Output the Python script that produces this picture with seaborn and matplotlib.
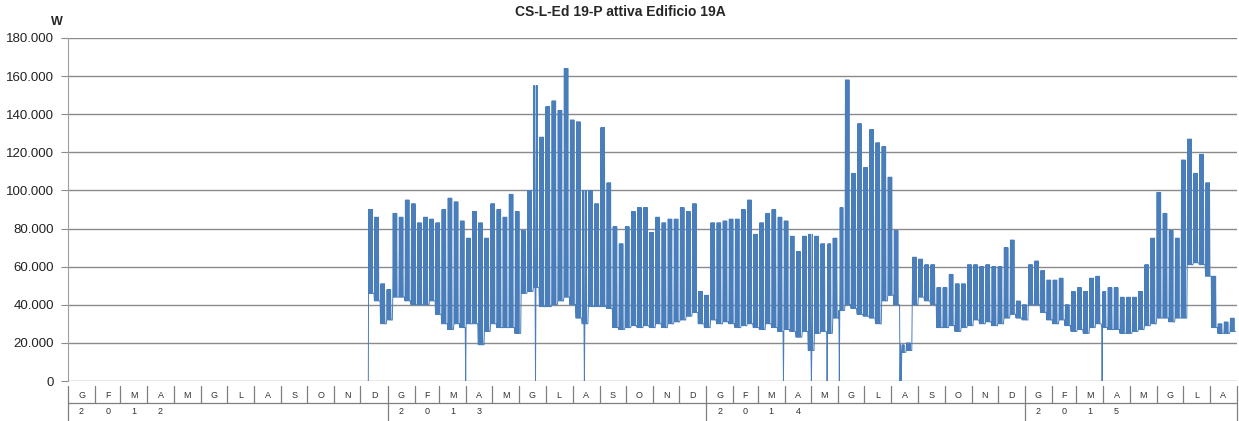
import numpy as np
import pandas as pd
import seaborn as sns
import matplotlib
matplotlib.use("Agg")
import matplotlib.pyplot as plt
import matplotlib.dates as mdates
from matplotlib.ticker import FuncFormatter

# weekly readings (kW) starting Monday 10 Dec 2012: weekday peak and night/weekend base
week_start = "2012-12-10"
week_peak = [90, 86, 51, 48, 88, 86, 95, 93, 83, 86, 85, 83, 90, 96, 94, 84, 75, 89, 83, 75,
             93, 90, 86, 98, 89, 79, 100, 155, 128, 144, 147, 142, 164, 137, 136, 100, 100, 93, 133, 104,
             81, 72, 81, 89, 91, 91, 78, 86, 83, 85, 85, 91, 89, 93, 47, 45, 83, 83, 84, 85,
             85, 90, 95, 77, 83, 88, 90, 86, 84, 76, 68, 76, 77, 76, 72, 72, 75, 91, 158, 109,
             135, 112, 132, 125, 123, 107, 79, 19, 20, 65, 64, 61, 61, 49, 49, 56, 51, 51, 61, 61,
             60, 61, 60, 60, 70, 74, 42, 40, 61, 63, 58, 53, 53, 54, 40, 47, 49, 47, 54, 55,
             47, 49, 49, 44, 44, 44, 47, 61, 75, 99, 88, 79, 75, 116, 127, 109, 119, 104, 55, 30,
             31, 33]
week_base = [46, 42, 30, 32, 44, 44, 42, 40, 40, 40, 42, 35, 30, 27, 30, 28, 30, 30, 19, 26,
             30, 28, 28, 28, 25, 46, 47, 49, 39, 39, 40, 42, 44, 40, 33, 30, 39, 39, 39, 38,
             28, 27, 28, 29, 28, 29, 28, 30, 28, 30, 31, 32, 34, 36, 30, 28, 32, 30, 31, 30,
             28, 29, 30, 28, 27, 30, 28, 26, 27, 26, 23, 26, 16, 25, 26, 25, 33, 37, 40, 38,
             35, 34, 33, 30, 42, 45, 40, 15, 16, 40, 44, 42, 40, 28, 28, 29, 26, 28, 29, 32,
             30, 31, 29, 30, 33, 35, 33, 32, 40, 40, 36, 32, 30, 32, 29, 26, 27, 25, 28, 30,
             28, 27, 27, 25, 25, 26, 27, 29, 30, 33, 33, 31, 33, 33, 61, 62, 61, 55, 28, 25,
             25, 26]
# moments where the meter reading drops to zero
zero_dips = ["2012-12-10 00:00", "2013-03-31 12:00", "2013-06-19 12:00", "2013-08-14 12:00",
             "2014-03-30 12:00", "2014-05-01 12:00", "2014-05-19 12:00", "2014-06-02 12:00",
             "2014-08-11 00:00", "2014-08-12 12:00", "2015-03-30 12:00"]

month_letters = ["G", "F", "M", "A", "M", "G", "L", "A", "S", "O", "N", "D"]
years = ["2012", "2013", "2014", "2015"]

# expand weekly readings to half-day points (weekday noon = peak, else base)
times, values = [], []
t0 = pd.Timestamp(week_start)
for i, (pk, bs) in enumerate(zip(week_peak, week_base)):
    for k in range(14):
        day = k // 2
        times.append(t0 + pd.Timedelta(days=7 * i + day, hours=12 * (k % 2)))
        values.append(pk if (day < 5 and k % 2 == 1) else bs)
df = pd.DataFrame({"time": times, "W": np.array(values, dtype=float) * 1000})
df.loc[df["time"].isin(pd.to_datetime(zero_dips)), "W"] = 0
df["x"] = mdates.date2num(df["time"])

sns.set_style("white")
plt.rcParams["font.family"] = ["Liberation Sans", "DejaVu Sans"]

fig = plt.figure(figsize=(12.39, 4.21), dpi=100)
ax = fig.add_axes([68 / 1239, 40 / 421, 1169 / 1239, 343 / 421])

sns.lineplot(data=df, x="x", y="W", color="#4a7ebb", linewidth=0.7, ax=ax)

x0 = mdates.date2num(pd.Timestamp("2012-01-01"))
x1 = mdates.date2num(pd.Timestamp("2015-09-01"))
ax.set_xlim(x0, x1)
ax.set_ylim(0, 180000)
ax.set_yticks(range(0, 180001, 20000))
ax.yaxis.set_major_formatter(FuncFormatter(lambda v, _: f"{int(v):,}".replace(",", ".")))
ax.tick_params(axis="y", length=5, color="#8c8c8c", labelsize=9.5, pad=5, labelcolor="#222222", left=True)
ax.set_xticks([])
ax.set_xlabel("")
ax.set_ylabel("")
ax.grid(axis="y", color="#8a8a8a", linewidth=1.0)
for s in ["top", "right", "bottom"]:
    ax.spines[s].set_visible(False)
ax.spines["left"].set_color("#a0a0a0")
ax.spines["left"].set_linewidth(0.8)

# Excel-style two-level category axis
px = 1 / 343
tr = ax.get_xaxis_transform()
bounds = mdates.date2num(pd.date_range("2012-01-01", "2015-09-01", freq="MS"))
line_kw = dict(transform=tr, clip_on=False, color="#7f7f7f", linewidth=0.9)
ax.plot([x0, x1], [-22 * px, -22 * px], **line_kw)
for j, b in enumerate(bounds):
    if j % 12 == 0 or j == len(bounds) - 1:
        ax.plot([b, b], [-5 * px, -40 * px], **line_kw)
    else:
        ax.plot([b, b], [-5 * px, -22 * px], **line_kw)
for j in range(len(bounds) - 1):
    mid = (bounds[j] + bounds[j + 1]) / 2
    ax.text(mid, -14 * px, month_letters[j % 12], transform=tr, ha="center", va="center",
            fontsize=6.5, color="#333333")
    if j % 12 < 4:
        ax.text(mid, -31 * px, years[j // 12][j % 12], transform=tr, ha="center", va="center",
                fontsize=6.5, color="#333333")

fig.text(57 / 1239, 1 - 22 / 421, "W", ha="center", va="center", fontsize=9, fontweight="bold")
fig.text(620 / 1239, 1 - 12 / 421, "CS-L-Ed 19-P attiva Edificio 19A", ha="center", va="center",
         fontsize=10, fontweight="bold")

fig.savefig("out.png", dpi=100)
